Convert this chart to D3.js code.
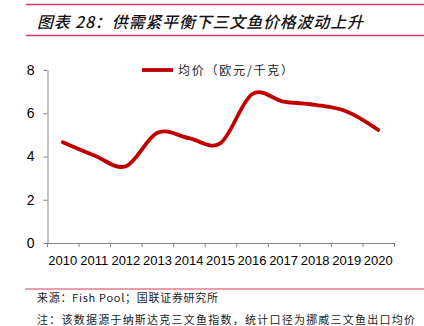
<!DOCTYPE html>
<html><head><meta charset="utf-8">
<script src="https://cdn.jsdelivr.net/npm/d3@7"></script>
<style>
html,body{margin:0;padding:0;background:#fff;}
svg{display:block;}
</style></head>
<body>
<svg id="c" width="424" height="326"></svg>
<script>
const years = ["2010","2011","2012","2013","2014","2015","2016","2017","2018","2019","2020"];
const prices = [4.66, 4.05, 3.55, 5.1, 4.85, 4.62, 6.88, 6.54, 6.39, 6.08, 5.23];
const yTicks = [0, 2, 4, 6, 8];
const seriesName = "均价（欧元/千克）";
const title = "图表 28：供需紧平衡下三文鱼价格波动上升";
const source = "来源：Fish Pool；国联证券研究所";
const note = "注：该数据源于纳斯达克三文鱼指数，统计口径为挪威三文鱼出口均价";

const svg = d3.select("#c");
const red = "#c00000", pink = "#d6395a";

// header lines and title
svg.append("line").attr("x1",26).attr("x2",424).attr("y1",4.5).attr("y2",4.5).attr("stroke",pink).attr("stroke-width",1.5);
svg.append("line").attr("x1",26).attr("x2",424).attr("y1",35.5).attr("y2",35.5).attr("stroke",pink).attr("stroke-width",1.5);
svg.append("text").attr("x",37).attr("y",28).text(title)
  .attr("font-family","'Noto Sans CJK SC'").attr("font-size",16).attr("font-style","italic").attr("font-weight",500)
  .attr("textLength",326).attr("lengthAdjust","spacing").attr("fill","#111");

// chart
const x = d3.scaleBand().domain(years).range([47,394]);
const y = d3.scaleLinear().domain([0,8]).range([243,70]);

const axisColor = "#868686";
const gx = svg.append("g").attr("transform","translate(0,243)")
  .call(d3.axisBottom(x).tickSize(0).tickPadding(13));
gx.select(".domain").attr("stroke",axisColor);
gx.selectAll("text").attr("font-family","'Liberation Sans',Arial").attr("font-size",13).attr("fill","#000");
// category boundary ticks
const bounds = years.map(d=>x(d)).concat([x.range()[1]]);
svg.append("g").selectAll("line").data(bounds).join("line")
  .attr("x1",d=>d+0.5).attr("x2",d=>d+0.5).attr("y1",243).attr("y2",247).attr("stroke",axisColor);

const gy = svg.append("g").attr("transform","translate(47.5,0)")
  .call(d3.axisLeft(y).tickValues(yTicks).tickSize(4).tickPadding(9).tickSizeOuter(0));
gy.select(".domain").attr("stroke",axisColor);
gy.selectAll(".tick line").attr("stroke",axisColor);
gy.selectAll("text").attr("font-family","'Liberation Sans',Arial").attr("font-size",14).attr("fill","#000");

const line = d3.line().x((d,i)=>x(years[i])+x.bandwidth()/2).y(d=>y(d)).curve(d3.curveCardinal.tension(0));
svg.append("path").datum(prices).attr("d",line).attr("fill","none").attr("stroke",red).attr("stroke-width",3.8).attr("stroke-linecap","round");

// legend
svg.append("line").attr("x1",142).attr("x2",173).attr("y1",70).attr("y2",70).attr("stroke",red).attr("stroke-width",3.8);
svg.append("text").attr("x",178).attr("y",74.5).text(seriesName)
  .attr("font-family","'Noto Sans CJK SC'").attr("font-size",12).attr("fill","#222")
  .attr("textLength",115).attr("lengthAdjust","spacing");

// footer
svg.append("line").attr("x1",25).attr("x2",424).attr("y1",289).attr("y2",289).attr("stroke",pink).attr("stroke-width",1);
svg.append("text").attr("x",37).attr("y",302).text(source)
  .attr("font-family","'Noto Sans CJK SC'").attr("font-size",11).attr("fill","#222")
  .attr("textLength",181).attr("lengthAdjust","spacing");
svg.append("text").attr("x",37).attr("y",324).text(note)
  .attr("font-family","'Noto Sans CJK SC'").attr("font-size",11).attr("fill","#222")
  .attr("textLength",378).attr("lengthAdjust","spacing");
</script>
</body></html>
